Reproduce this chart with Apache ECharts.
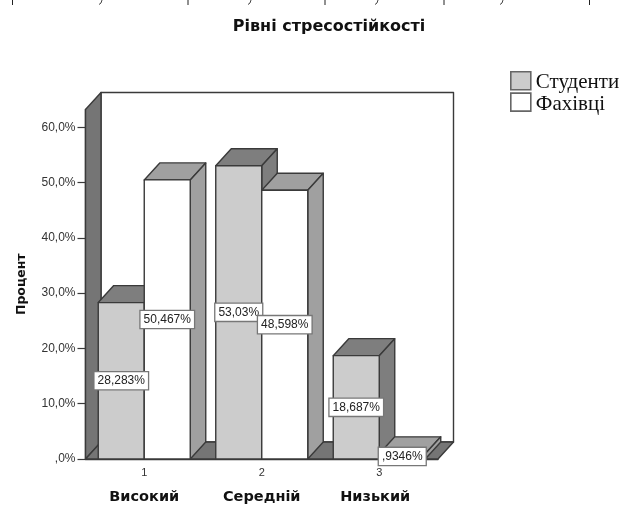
<!DOCTYPE html>
<meta charset="utf-8">
<style>html,body{margin:0;background:#fff}</style>
<script src="https://cdn.jsdelivr.net/npm/echarts/dist/echarts.min.js"></script>
<div id="main" style="position:absolute;left:0;top:0;width:629px;height:505px"></div>

<script type="text/javascript">
const title = 'Рівні стресостійкості'
const yName = 'Процент'
const tickNames = ['1', '2', '3']
const categories = ['Високий', 'Середній', 'Низький']
const seriesNames = ['Студенти', 'Фахівці']
const students = [28.283, 53.03, 18.687]
const experts = [50.467, 48.598, 0.9346]
const yTicks = [0, 10, 20, 30, 40, 50, 60]

const yMax = 63.2
const depthX = 15.5, depthY = -17
const barRatio = 46 / 117.5
const line = '#3a3a3a'
const colors = [
  {front: '#cccccc', top: '#7e7e7e', side: '#7e7e7e'},
  {front: '#ffffff', top: '#a0a0a0', side: '#a0a0a0'},
]

const poly = (points, fill) => ({
  type: 'polygon',
  shape: {points},
  style: {fill, stroke: line, lineWidth: 1.4, lineJoin: 'round'},
})

// comma decimals, no leading zero: ,9346%
const fmtPct = v => String(v).replace('.', ',').replace(/^0,/, ',') + '%'
const fmtTick = v => (v === 0 ? ',0%' : v.toFixed(1).replace('.', ',') + '%')

const renderFrame = (params, api) => {
  const [x0, y0] = api.coord([0, 0]).map((a, i) => a - (i ? 0 : api.size([1, 0])[0] / 2))
  const x1 = x0 + api.size([1, 0])[0] * categories.length
  const yT = api.coord([0, yMax])[1]
  return {
    type: 'group',
    children: [
      poly([[x0 + depthX, yT + depthY], [x1 + depthX, yT + depthY], [x1 + depthX, y0 + depthY], [x0 + depthX, y0 + depthY]], '#ffffff'),
      poly([[x0, yT], [x0 + depthX, yT + depthY], [x0 + depthX, y0 + depthY], [x0, y0]], '#757575'),
      poly([[x0, y0], [x0 + depthX, y0 + depthY], [x1 + depthX, y0 + depthY], [x1, y0]], '#757575'),
    ],
  }
}

const renderBar = idx => (params, api) => {
  const [cx, y0] = api.coord([api.value(0), 0])
  const yV = api.coord([api.value(0), api.value(1)])[1]
  const w = api.size([1, 0])[0] * barRatio
  const l = idx === 0 ? cx - w : cx
  const r = l + w
  const c = colors[idx]
  return {
    type: 'group',
    children: [
      poly([[l, yV], [l + depthX, yV + depthY], [r + depthX, yV + depthY], [r, yV]], c.top),
      poly([[r, yV], [r + depthX, yV + depthY], [r + depthX, y0 + depthY], [r, y0]], c.side),
      poly([[l, yV], [r, yV], [r, y0], [l, y0]], c.front),
    ],
  }
}

const renderLabel = (params, api) => {
  const idx = api.value(2)
  const p = api.coord([api.value(0), api.value(1) / 2])
  const w = api.size([1, 0])[0] * barRatio
  return {
    type: 'text',
    x: p[0] + (idx === 0 ? -w / 2 : w / 2),
    y: p[1],
    style: {
      text: fmtPct(api.value(1)),
      align: 'center',
      verticalAlign: 'middle',
      font: '12px "Liberation Sans"',
      fill: '#222',
      backgroundColor: '#fff',
      borderColor: '#777',
      borderWidth: 1.3,
      padding: [3, 3, 2, 3],
    },
  }
}

const labelData = []
;[students, experts].forEach((vals, s) => vals.forEach((v, i) => labelData.push([i, v, s])))

const catStyle = {fontFamily: '"DejaVu Sans"', fontSize: 14.5, fontWeight: 'bold', color: '#111', lineHeight: 26}

const myChart = echarts.init(document.getElementById('main'), null, {renderer: 'canvas'})
myChart.setOption({
  animation: false,
  backgroundColor: '#fff',
  textStyle: {fontFamily: '"Liberation Sans"'},
  title: {
    text: title,
    left: 324,
    top: 14,
    textAlign: 'center',
    textStyle: {fontFamily: '"DejaVu Sans"', fontSize: 16, fontWeight: 'bold', color: '#111'},
  },
  legend: {
    data: seriesNames.map(name => ({name, icon: 'rect'})),
    orient: 'vertical',
    left: 510,
    top: 71,
    padding: 0,
    itemWidth: 20,
    itemHeight: 18,
    itemGap: -1,
    selectedMode: false,
    itemStyle: {borderColor: '#666', borderWidth: 1.6},
    formatter: '{t|{name}}',
    textStyle: {
      rich: {t: {fontFamily: '"Liberation Serif"', fontSize: 21, color: '#111', padding: [4, 0, 0, 0]}},
    },
  },
  grid: {left: 85.5, top: 109.5, width: 352.5, height: 349.5, outerBoundsMode: 'none'},
  xAxis: {
    type: 'category',
    data: categories,
    axisLine: {lineStyle: {color: line, width: 1.4}},
    axisTick: {alignWithLabel: true, length: 4, lineStyle: {color: line}},
    axisLabel: {
      margin: 3,
      interval: 0,
      formatter: (v, i) => `{n|${tickNames[i]}}\n{${i === 2 ? 'e' : 'c'}|${v}}`,
      rich: {
        n: {fontSize: 11, color: '#333', lineHeight: 22},
        c: catStyle,
        e: Object.assign({padding: [0, 8, 0, 0]}, catStyle),
      },
    },
  },
  yAxis: {
    type: 'value',
    min: 0,
    max: yMax,
    interval: 10,
    name: yName,
    nameLocation: 'middle',
    nameGap: 57,
    nameTextStyle: {fontFamily: '"DejaVu Sans"', fontSize: 12.5, fontWeight: 'bold', color: '#111'},
    splitLine: {show: false},
    axisLine: {show: true, lineStyle: {color: line, width: 1.4}},
    axisTick: {show: true, length: 8, customValues: yTicks, lineStyle: {color: line, width: 1.2}},
    axisLabel: {margin: 10, fontSize: 12, color: '#333', customValues: yTicks, formatter: fmtTick},
  },
  series: [
    {type: 'custom', silent: true, z: 1, renderItem: renderFrame, data: [[0, 0]], encode: {x: 0, y: 1}},
    {type: 'custom', name: seriesNames[0], z: 2, renderItem: renderBar(0), itemStyle: {color: colors[0].front},
      data: students.map((v, i) => [i, v]), encode: {x: 0, y: 1}},
    {type: 'custom', name: seriesNames[1], z: 3, renderItem: renderBar(1), itemStyle: {color: colors[1].front},
      data: experts.map((v, i) => [i, v]), encode: {x: 0, y: 1}},
    {type: 'custom', silent: true, z: 5, renderItem: renderLabel, data: labelData, encode: {x: 0, y: 1}},
  ],
  // leftovers of the table row cut off above the chart
  graphic: [
    ...[12.5, 188, 325, 444, 589.5].map(x => ({
      type: 'line',
      shape: {x1: x, y1: 0, x2: x, y2: 5},
      style: {stroke: '#222', lineWidth: 1},
    })),
    ...[100, 249, 376, 501].map(x => ({
      type: 'polyline',
      shape: {points: [[x + 2, 0], [x + 1, 3], [x - 1, 4.5]]},
      style: {stroke: '#444', lineWidth: 1, fill: 'none'},
    })),
  ],
})
</script>
